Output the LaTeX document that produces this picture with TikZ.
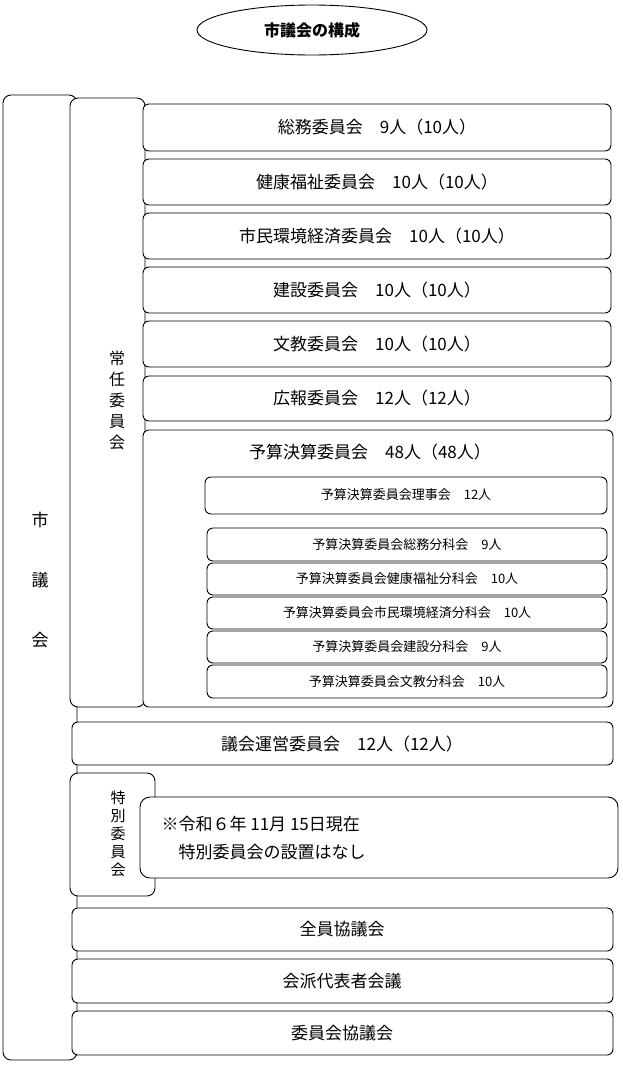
\documentclass[tikz,border=0pt]{standalone}
\usepackage{fontspec}
\setmainfont{Noto Sans CJK JP}
\usetikzlibrary{shapes.geometric}
\begin{document}
\begin{tikzpicture}[x=1pt,y=-1pt,
  bx/.style={draw,fill=white,rounded corners=6pt,line width=0.9pt},
  lab/.style={font=\fontsize{17}{19}\selectfont},
  sml/.style={font=\fontsize{13}{15}\selectfont}]
\useasboundingbox (0,0) rectangle (622,1066);
\node[draw,ellipse,minimum width=230,minimum height=50,line width=0.9pt,font=\fontsize{16}{18}\selectfont\bfseries] (title) at (312,30) {市議会の構成};
\draw[bx,rounded corners=8pt] (3,95) rectangle (77,1060);
\node[lab] (c1) at (40,520) {市};
\node[lab] (c2) at (40,580) {議};
\node[lab] (c3) at (40,640) {会};
\draw[bx,rounded corners=8pt] (70,98) rectangle (145,707);
\node[lab,align=center,font=\fontsize{16}{21}\selectfont] (jonin) at (117,400) {常\\任\\委\\員\\会};
\foreach \t/\a/\b in {総務委員会　9人（10人）/104/151,健康福祉委員会　10人（10人）/159/205,市民環境経済委員会　10人（10人）/213/259,建設委員会　10人（10人）/267/313,文教委員会　10人（10人）/321/367,広報委員会　12人（12人）/376/421}{
  \draw[bx] (143,\a) rectangle (611,\b);
  \node[lab] at (377,{(\a+\b)/2}) {\t};
}
\draw[bx] (143,430) rectangle (613,707);
\node[lab] (yosan) at (370,452) {予算決算委員会　48人（48人）};
\draw[bx] (205,477) rectangle (607,514);
\node[sml] (riji) at (406,495) {予算決算委員会理事会　12人};
\foreach \t/\a/\b in {予算決算委員会総務分科会　9人/528/561,予算決算委員会健康福祉分科会　10人/563/595,予算決算委員会市民環境経済分科会　10人/597/629,予算決算委員会建設分科会　9人/631/663,予算決算委員会文教分科会　10人/665/698}{
  \draw[bx] (207,\a) rectangle (607,\b);
  \node[sml] at (407,{(\a+\b)/2}) {\t};
}
\draw[bx] (72,722) rectangle (613,765);
\node[lab] (unei) at (342,744) {議会運営委員会　12人（12人）};
\draw[bx,rounded corners=8pt] (70,773) rectangle (155,896);
\node[lab,align=center,font=\fontsize{15}{18}\selectfont] (tokubetsu) at (118,834) {特\\別\\委\\員\\会};
\draw[bx,rounded corners=10pt] (140,797) rectangle (618,878);
\node[lab,align=left,anchor=west,font=\fontsize{17}{28}\selectfont] (note) at (158,838) {※令和６年 11月 15日現在\\　特別委員会の設置はなし};
\foreach \t/\a/\b in {全員協議会/908/951,会派代表者会議/959/1003,委員会協議会/1011/1055}{
  \draw[bx] (72,\a) rectangle (613,\b);
  \node[lab] at (342,{(\a+\b)/2}) {\t};
}
\end{tikzpicture}
\end{document}
